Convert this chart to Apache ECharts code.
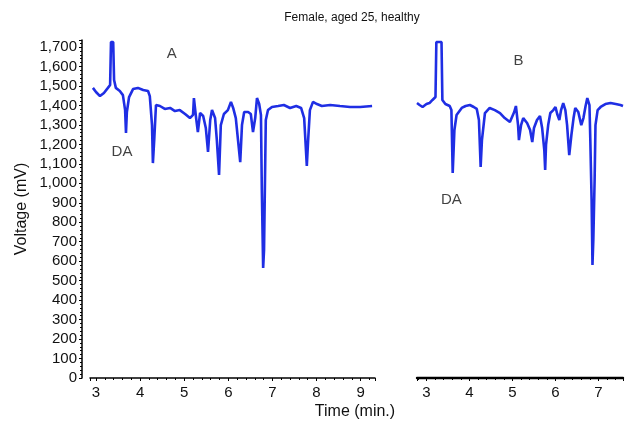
<!DOCTYPE html>
<html>
<head>
<meta charset="utf-8">
<script src="https://cdn.jsdelivr.net/npm/echarts@6/dist/echarts.min.js"></script>
<style>html,body{margin:0;padding:0;background:#fff}#c{width:625px;height:429px}</style>
</head>
<body>
<div id="c"></div>
<script>
// Panel A: time (min) and voltage (mV)
const timeA = [2.93,3.00,3.09,3.18,3.27,3.32,3.34,3.39,3.41,3.45,3.54,3.61,3.66,3.68,3.70,3.75,3.84,3.95,4.07,4.18,4.22,4.27,4.29,4.32,4.36,4.45,4.56,4.68,4.79,4.90,5.02,5.13,5.20,5.22,5.27,5.31,5.36,5.43,5.49,5.54,5.59,5.63,5.70,5.74,5.79,5.83,5.90,5.99,6.06,6.11,6.17,6.22,6.27,6.31,6.36,6.45,6.51,6.56,6.61,6.65,6.70,6.74,6.76,6.79,6.81,6.85,6.90,6.99,7.13,7.26,7.40,7.54,7.65,7.72,7.76,7.78,7.81,7.85,7.92,8.01,8.12,8.31,8.53,8.76,8.99,9.26];
const voltA = [1490,1469,1448,1464,1490,1505,1726,1726,1531,1490,1474,1453,1376,1258,1366,1443,1484,1490,1479,1474,1448,1299,1104,1222,1402,1397,1382,1387,1371,1376,1356,1335,1351,1438,1335,1263,1361,1346,1284,1161,1325,1376,1335,1222,1043,1299,1356,1376,1418,1387,1335,1222,1109,1299,1366,1366,1356,1263,1335,1438,1407,1351,966,565,657,1325,1376,1392,1397,1402,1387,1397,1387,1335,1171,1089,1222,1376,1418,1407,1397,1402,1397,1392,1392,1397];
// Panel B
const timeB = [2.78,2.84,2.91,3.00,3.07,3.14,3.21,3.23,3.35,3.37,3.44,3.54,3.58,3.61,3.65,3.70,3.82,3.91,4.01,4.10,4.17,4.22,4.26,4.29,4.36,4.47,4.59,4.71,4.82,4.94,5.04,5.08,5.13,5.15,5.20,5.25,5.34,5.41,5.46,5.50,5.57,5.64,5.69,5.74,5.76,5.78,5.83,5.88,5.95,6.00,6.04,6.09,6.13,6.18,6.23,6.27,6.32,6.37,6.42,6.46,6.53,6.60,6.65,6.70,6.74,6.79,6.81,6.84,6.86,6.88,6.91,6.93,6.98,7.05,7.16,7.28,7.40,7.51,7.57];
const voltB = [1412,1402,1392,1407,1412,1428,1443,1726,1726,1428,1407,1397,1376,1053,1274,1351,1387,1397,1402,1392,1382,1325,1084,1222,1361,1387,1376,1361,1335,1315,1366,1397,1299,1222,1299,1335,1310,1274,1212,1284,1325,1346,1284,1171,1068,1197,1299,1361,1376,1392,1356,1325,1376,1412,1376,1299,1145,1248,1335,1387,1366,1299,1335,1397,1438,1402,1222,914,580,709,1017,1299,1376,1392,1407,1412,1407,1402,1397];
// Annotations [time, voltage, text]
const notesA = [[4.72, 1664, 'A'], [3.59, 1161, 'DA']];
const notesB = [[5.14, 1628, 'B'], [3.58, 914, 'DA']];
const titleText = 'Female, aged 25, healthy';
const xName = 'Time (min.)';
const yName = 'Voltage (mV)';

const FONT = 'Liberation Sans, Arial, Helvetica, sans-serif';
const BLUE = '#1f2ee4';
const chart = echarts.init(document.getElementById('c'));

function xAxisCfg(grid, min, max, lineW) {
  return {
    type: 'value', gridIndex: grid, min: min, max: max, splitNumber: 6,
    axisLine: {show: true, onZero: false, lineStyle: {color: '#000', width: lineW}},
    axisTick: {show: true, length: 3, lineStyle: {color: '#000'}},
    minorTick: {show: true, splitNumber: 5, length: 2, lineStyle: {color: '#000'}},
    splitLine: {show: false},
    axisLabel: {
      color: '#111', fontFamily: FONT, fontSize: 15, margin: 7,
      showMinLabel: false, showMaxLabel: false,
      formatter: v => (Math.abs(v - Math.round(v)) < 1e-6 ? String(Math.round(v)) : '')
    }
  };
}

const noteSeries = (notes, xi, yi) => ({
  type: 'scatter', xAxisIndex: xi, yAxisIndex: yi, silent: true,
  symbolSize: 1, itemStyle: {color: 'rgba(0,0,0,0)'},
  data: notes.map(n => ({value: [n[0], n[1]], label: {formatter: n[2]}})),
  label: {show: true, position: 'inside', color: '#111', fontFamily: FONT, fontSize: 15}
});

chart.setOption({
  animation: false,
  backgroundColor: '#fff',
  grid: [
    {left: 90, top: 40, width: 285, bottom: 51},
    {left: 417, top: 40, width: 206, bottom: 51}
  ],
  xAxis: [
    xAxisCfg(0, 2.864, 9.326, 1.5),
    xAxisCfg(1, 2.78, 7.57, 2.4)
  ],
  yAxis: [
    {
      type: 'value', gridIndex: 0, min: 0, max: 1736, interval: 100, offset: 8,
      name: yName, nameLocation: 'middle', nameGap: 52,
      nameTextStyle: {fontFamily: FONT, fontSize: 16, color: '#111'},
      axisLine: {show: true, lineStyle: {color: '#000', width: 1.5}},
      axisTick: {show: true, length: 3, lineStyle: {color: '#000'}},
      minorTick: {show: true, splitNumber: 5, length: 2, lineStyle: {color: '#000'}},
      splitLine: {show: false},
      axisLabel: {
        color: '#111', fontFamily: FONT, fontSize: 15, margin: 5, showMaxLabel: false,
        formatter: v => v.toLocaleString('en-US')
      }
    },
    {type: 'value', gridIndex: 1, min: 0, max: 1736, show: false, splitLine: {show: false}}
  ],
  graphic: [
    {type: 'text', x: 352, y: 18, style: {text: titleText, fontFamily: FONT, fontSize: 12, fill: '#111', align: 'center', verticalAlign: 'middle'}},
    {type: 'text', x: 355, y: 412, style: {text: xName, fontFamily: FONT, fontSize: 16, fill: '#111', align: 'center', verticalAlign: 'middle'}}
  ],
  series: [
    {type: 'line', xAxisIndex: 0, yAxisIndex: 0, showSymbol: false, symbol: 'none',
     lineStyle: {color: BLUE, width: 2.6}, data: timeA.map((t, i) => [t, voltA[i]])},
    {type: 'line', xAxisIndex: 1, yAxisIndex: 1, showSymbol: false, symbol: 'none',
     lineStyle: {color: BLUE, width: 2.6}, data: timeB.map((t, i) => [t, voltB[i]])},
    noteSeries(notesA, 0, 0),
    noteSeries(notesB, 1, 1)
  ]
});
</script>
</body>
</html>
